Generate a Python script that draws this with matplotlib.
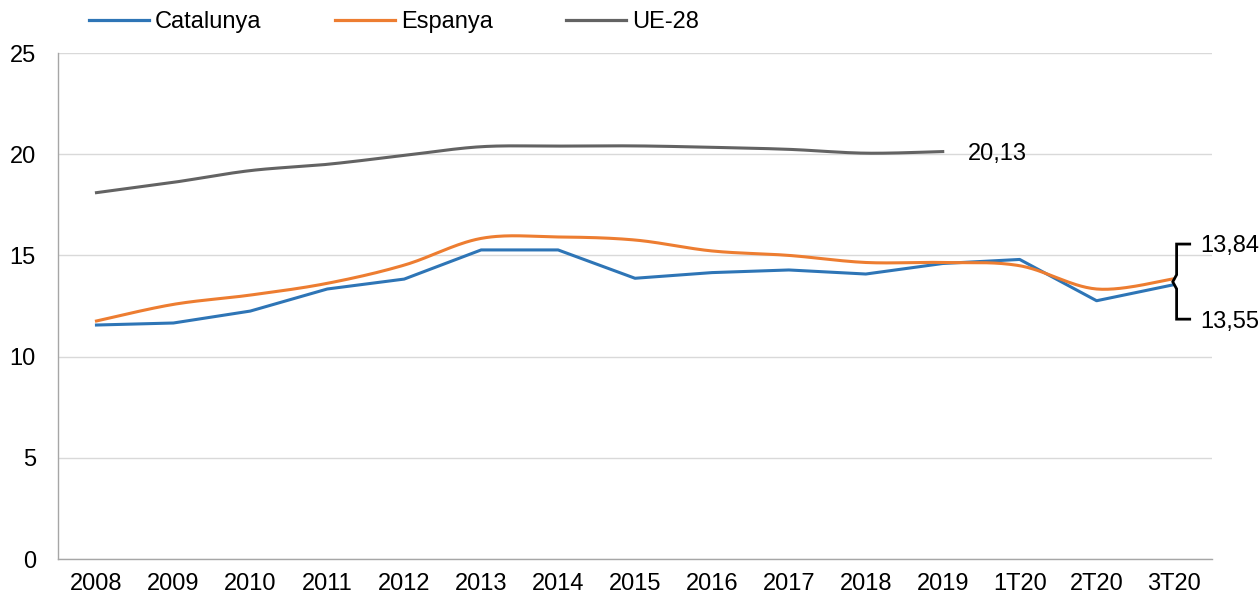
import numpy as np
import matplotlib
matplotlib.use("Agg")
import matplotlib.pyplot as plt
from matplotlib.lines import Line2D

plt.rcParams['font.family'] = ['Liberation Sans', 'DejaVu Sans']

categories = ["2008", "2009", "2010", "2011", "2012", "2013", "2014", "2015",
              "2016", "2017", "2018", "2019", "1T20", "2T20", "3T20"]
catalunya = [11.56, 11.66, 12.25, 13.34, 13.83, 15.27, 15.27, 13.87,
             14.15, 14.28, 14.08, 14.60, 14.80, 12.76, 13.55]
espanya = [11.76, 12.58, 13.04, 13.62, 14.52, 15.84, 15.91, 15.76,
           15.22, 15.00, 14.65, 14.65, 14.49, 13.34, 13.84]
ue28 = [18.10, 18.61, 19.19, 19.50, 19.94, 20.37, 20.40, 20.41,
        20.34, 20.24, 20.05, 20.13]
yticks = [0, 5, 10, 15, 20, 25]

C_CAT = "#2E75B6"
C_ESP = "#ED7D31"
C_UE = "#636363"
FS = 17


def excel_smooth(y, n=30):
    """Excel-style smoothed line (Catmull-Rom Bezier) through the data points."""
    x = np.arange(len(y), dtype=float)
    y = np.asarray(y, dtype=float)
    pts = np.column_stack([x, y])
    out = []
    for i in range(len(pts) - 1):
        p0 = pts[i - 1] if i > 0 else pts[i]
        p1 = pts[i]
        p2 = pts[i + 1]
        p3 = pts[i + 2] if i + 2 < len(pts) else pts[i + 1]
        c1 = p1 + (p2 - p0) / 6.0
        c2 = p2 - (p3 - p1) / 6.0
        t = np.linspace(0, 1, n, endpoint=(i == len(pts) - 2))[:, None]
        seg = ((1 - t) ** 3) * p1 + 3 * ((1 - t) ** 2) * t * c1 + 3 * (1 - t) * (t ** 2) * c2 + (t ** 3) * p2
        out.append(seg)
    out = np.vstack(out)
    return out[:, 0], out[:, 1]


fig = plt.figure(figsize=(12.6, 5.94), dpi=100)
ax = fig.add_axes([58 / 1260, 35 / 594, (1212 - 58) / 1260, (559 - 53) / 594])

x = np.arange(len(categories))
ax.plot(x, catalunya, color=C_CAT, lw=2.2, solid_joinstyle='round', zorder=3)
xs, ys = excel_smooth(espanya)
ax.plot(xs, ys, color=C_ESP, lw=2.2, zorder=4)
xs, ys = excel_smooth(ue28)
ax.plot(xs, ys, color=C_UE, lw=2.2, zorder=3)

ax.set_xlim(-0.5, len(categories) - 0.5)
ax.set_ylim(0, 25)
ax.set_yticks(yticks)
ax.set_yticklabels([str(v) for v in yticks])
ax.set_xticks(x)
ax.set_xticklabels(categories)
ax.grid(axis='y', color='#D9D9D9', lw=1.0)
ax.set_axisbelow(True)
for s in ['top', 'right']:
    ax.spines[s].set_visible(False)
for s in ['left', 'bottom']:
    ax.spines[s].set_color('#A6A6A6')
    ax.spines[s].set_linewidth(1.0)
ax.tick_params(axis='both', length=0, labelsize=FS, colors='black')
ax.tick_params(axis='y', pad=16)
ax.tick_params(axis='x', pad=10)

# annotations
ax.text(len(ue28) - 1 + 0.33, ue28[-1] - 0.12, f"{ue28[-1]:.2f}".replace('.', ','),
        fontsize=FS, va='center', ha='left')
last = len(categories) - 1
bx = last + 0.04
tx = last + 0.21
y_top = 15.56
y_bot = 11.85
ymid = (espanya[-1] + catalunya[-1]) / 2
ax.plot([tx, bx, bx, last - 0.01, bx, bx, tx],
        [y_top, y_top, ymid + 0.35, ymid, ymid - 0.35, y_bot, y_bot],
        color='black', lw=2.0, clip_on=False, solid_joinstyle='miter', zorder=5)
ax.text(last + 0.35, y_top - 0.1, f"{espanya[-1]:.2f}".replace('.', ','),
        fontsize=FS, va='center', ha='left')
ax.text(last + 0.35, y_bot - 0.15, f"{catalunya[-1]:.2f}".replace('.', ','),
        fontsize=FS, va='center', ha='left')

handles = [Line2D([], [], color=C_CAT, lw=2.3),
           Line2D([], [], color=C_ESP, lw=2.3),
           Line2D([], [], color=C_UE, lw=2.3)]
fig.legend(handles, ["Catalunya", "Espanya", "UE-28"], loc='center left',
           bbox_to_anchor=(89 / 1260, 1 - 22 / 594), ncol=3, frameon=False,
           fontsize=FS, handlelength=2.55, handletextpad=0.25, columnspacing=3.1,
           borderpad=0, borderaxespad=0)

fig.savefig("out.png", dpi=100)
